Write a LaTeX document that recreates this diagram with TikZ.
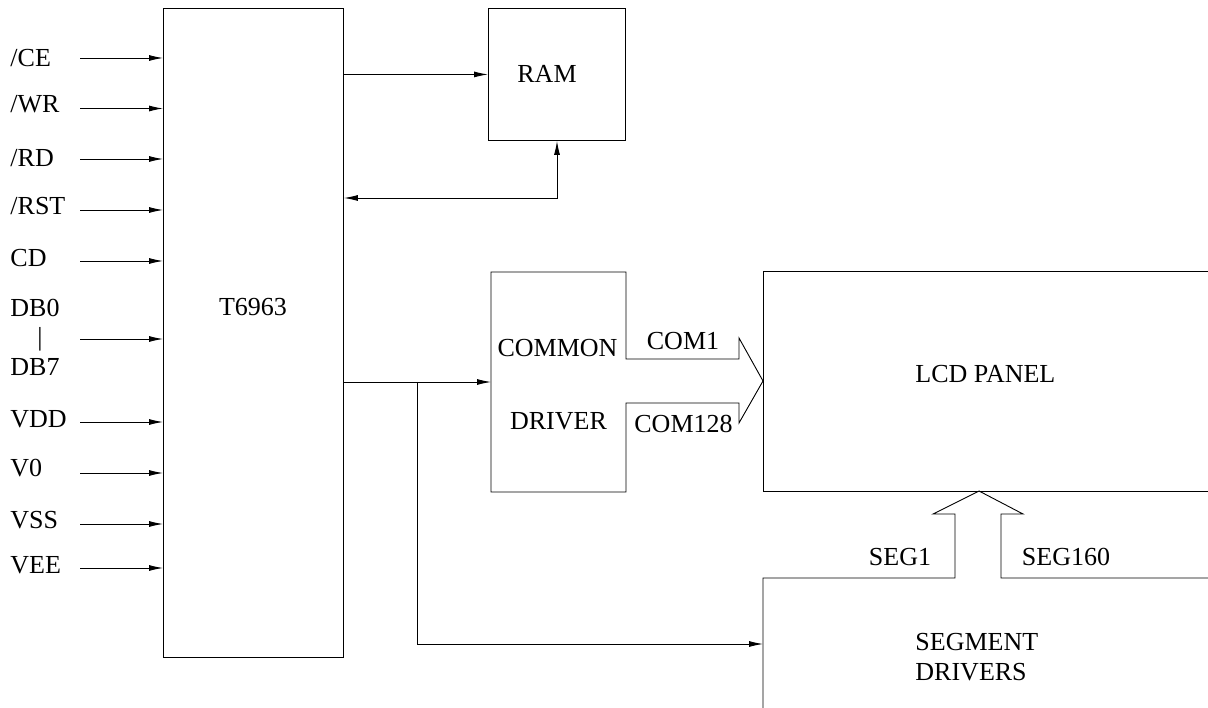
\documentclass[tikz,border=0pt]{standalone}
\usepackage{fontspec}
\setmainfont{Liberation Serif}
\usetikzlibrary{arrows.meta}
\begin{document}
\begin{tikzpicture}[x=1pt,y=-1pt,line width=0.9pt,
  lbl/.style={font=\fontsize{26}{30}\selectfont,inner sep=0pt},
  pin/.style={lbl,anchor=base west},
  arr/.style={-{Latex[length=14pt,width=6pt]}},
  arrboth/.style={{Latex[length=14pt,width=6pt]}-{Latex[length=14pt,width=6pt]}},
  box/.style={draw,rectangle,inner sep=0pt,anchor=north west}]
\useasboundingbox (0,0) rectangle (1208,708);
% controller
\node[box,minimum width=180pt,minimum height=649pt] (ctl) at (163,8) {};
\node[lbl] (ctltxt) at (253,307) {T6963};
% pins
\node[pin] (pce) at (10,67) {/CE};
\node[pin] (pwr) at (10,113) {/WR};
\node[pin] (prd) at (10,166.5) {/RD};
\node[pin] (prst) at (10,215) {/RST};
\node[pin] (pcd) at (10,266.5) {CD};
\node[pin] (pdb0) at (10,316.5) {DB0};
\node[lbl] (pbar) at (40,339) {|};
\node[pin] (pdb7) at (10,376) {DB7};
\node[pin] (pvdd) at (10,427.5) {VDD};
\node[pin] (pv0) at (10,476.5) {V0};
\node[pin] (pvss) at (10,529) {VSS};
\node[pin] (pvee) at (10,573) {VEE};
\foreach \n/\y in {ce/58,wr/108.5,rd/159,rst/210,cd/261,db/339,vdd/422,vz/473,vss/524,vee/568}{
  \coordinate (s\n) at (80,\y);
  \draw[arr] (s\n) -- (s\n -| ctl.west);
}
% RAM
\node[box,minimum width=137pt,minimum height=132pt] (ram) at (488,8) {};
\node[lbl] (ramtxt) at (547,73.5) {RAM};
\draw[arr] (ctl.east |- ram.west) -- (ram.west);
\coordinate (fbc) at (557,198);
\draw[arrboth] (ram.south -| fbc) -- (fbc) -- (ctl.east |- fbc);
% common driver
\coordinate (cdin) at (491,382);
\coordinate (br) at (417,382);
\coordinate (segin) at (763,644);
\draw (626,359) -- (626,272) -- (491,272) -- (491,492) -- (626,492) -- (626,403)
      -- (739,403) -- (739,423) -- (763,381) -- (739,338) -- (739,359) -- cycle;
\node[lbl,anchor=base] (cdt1) at (557.5,357) {COMMON};
\node[lbl,anchor=base] (cdt2) at (558.5,430) {DRIVER};
\node[lbl,anchor=base] (com1) at (683,350) {COM1};
\node[lbl,anchor=base] (com128) at (683.5,433) {COM128};
\draw[arr] (ctl.east |- cdin) -- (cdin);
\draw[arr] (br) |- (segin);
% LCD panel
\draw (1208,271) -- (763,271) -- (763,491) -- (1208,491);
\node[lbl,anchor=base west] (lcd) at (915,383) {LCD PANEL};
% segment drivers
\draw (763,708) -- (763,578) -- (955,578) -- (955,514) -- (933,514) -- (979,491)
      -- (1023,514) -- (1001,514) -- (1001,578) -- (1208,578);
\node[lbl,anchor=base] (seg1) at (900,565) {SEG1};
\node[lbl,anchor=base] (seg160) at (1066,565) {SEG160};
\node[lbl,anchor=base west] (segt1) at (915,650) {SEGMENT};
\node[lbl,anchor=base west] (segt2) at (915,680) {DRIVERS};
\end{tikzpicture}
\end{document}
